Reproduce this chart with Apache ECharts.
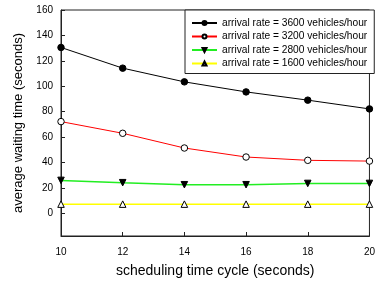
<!DOCTYPE html>
<html>
<head>
<meta charset="utf-8">
<script src="https://cdn.jsdelivr.net/npm/echarts@6/dist/echarts.min.js"></script>
<style>
  html, body { margin: 0; padding: 0; background: #fff; }
  #chart { width: 378px; height: 283px; }
</style>
</head>
<body>
<div id="chart"></div>
<script>
const cycles = [10, 12, 14, 16, 18, 20];
const rate3600 = [130.5, 114.2, 103.4, 95.5, 89, 82.1];
const rate3200 = [72.1, 62.9, 51.3, 44.2, 41.6, 41];
const rate2800 = [25.8, 24, 22.4, 22.4, 23.4, 23.4];
const rate1600 = [7.1, 7.1, 7.1, 7.1, 7.1, 7.1];
const yTicks = [0, 20, 40, 60, 80, 100, 120, 140, 160];

const font = 'Liberation Sans, Arial, sans-serif';

function pairs(vals) {
  return cycles.map((c, i) => [c, vals[i]]);
}

const chart = echarts.init(document.getElementById('chart'));

const option = {
  animation: false,
  grid: {
    left: 61, right: 3.5, top: 10, bottom: 47,
    show: true, borderColor: '#222', borderWidth: 1
  },
  legend: {
    orient: 'vertical',
    left: 185, top: 10,
    width: 190,
    padding: [8, 7, 5, 6],
    backgroundColor: '#fff',
    borderColor: '#222',
    borderWidth: 1,
    borderRadius: 0,
    itemWidth: 25,
    itemHeight: 5,
    itemGap: 3.5,
    textStyle: { fontFamily: font, fontSize: 10.2, color: '#000' }
  },
  xAxis: {
    type: 'value',
    min: 10, max: 20, interval: 2,
    name: 'scheduling time cycle (seconds)',
    nameLocation: 'middle',
    nameGap: 28,
    nameTextStyle: { fontFamily: font, fontSize: 14, color: '#000' },
    axisLine: { onZero: false, lineStyle: { color: '#222' } },
    axisTick: { inside: true, length: 4, lineStyle: { color: '#222' } },
    axisLabel: { fontFamily: font, fontSize: 10, color: '#000', margin: 11 },
    splitLine: { show: false }
  },
  yAxis: {
    type: 'value',
    min: -18, max: 160,
    name: 'average waiting time (seconds)',
    nameLocation: 'middle',
    nameGap: 34,
    nameTextStyle: { fontFamily: font, fontSize: 13, color: '#000' },
    axisLine: { show: true, onZero: false, lineStyle: { color: '#222' } },
    axisTick: { show: true, inside: true, length: 4, customValues: yTicks, lineStyle: { color: '#222' } },
    axisLabel: { fontFamily: font, fontSize: 10, color: '#000', margin: 8, customValues: yTicks },
    splitLine: { show: false }
  },
  series: [
    {
      name: 'arrival rate = 3600 vehicles/hour',
      type: 'line',
      data: pairs(rate3600),
      symbol: 'circle', symbolSize: 6.5,
      lineStyle: { color: '#000', width: 1 },
      itemStyle: { color: '#000', borderColor: '#000', borderWidth: 1 }
    },
    {
      name: 'arrival rate = 3200 vehicles/hour',
      type: 'line',
      data: pairs(rate3200),
      symbol: 'circle', symbolSize: 6.5,
      lineStyle: { color: '#ff0000', width: 1 },
      itemStyle: { color: '#fff', borderColor: '#000', borderWidth: 1 }
    },
    {
      name: 'arrival rate = 2800 vehicles/hour',
      type: 'line',
      data: pairs(rate2800),
      symbol: 'triangle', symbolSize: 6.5, symbolRotate: 180,
      lineStyle: { color: '#22ee22', width: 1.5 },
      itemStyle: { color: '#000', borderColor: '#000', borderWidth: 1 }
    },
    {
      name: 'arrival rate = 1600 vehicles/hour',
      type: 'line',
      data: pairs(rate1600),
      symbol: 'triangle', symbolSize: 6.5,
      lineStyle: { color: '#ffff00', width: 1.5 },
      itemStyle: { color: '#fff', borderColor: '#000', borderWidth: 1 }
    }
  ]
};

chart.setOption(option);
</script>
</body>
</html>
